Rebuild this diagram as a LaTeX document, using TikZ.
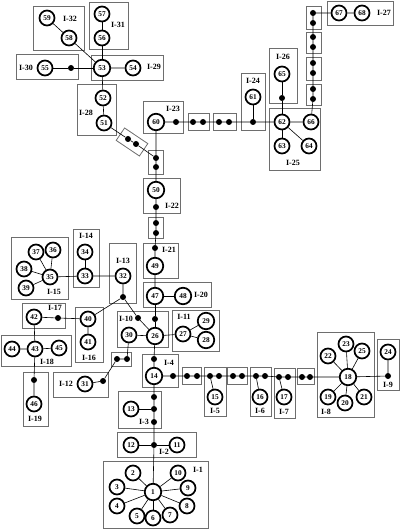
\documentclass[tikz,border=0pt]{standalone}
\usepackage{fontspec}
\setmainfont{Liberation Serif}
\definecolor{boxgray}{RGB}{110,110,110}
\begin{document}
\begin{tikzpicture}[x=1pt,y=-1pt,
 v/.style={circle,draw,line width=1.7pt,minimum size=15pt,inner sep=0pt,font=\bfseries\fontsize{7.3}{8}\selectfont},
 vb/.style={v,minimum size=16.5pt},
 d/.style={circle,fill,inner sep=0pt,minimum size=6pt},
 grp/.style={draw=boxgray,line width=0.8pt},
 lbl/.style={font=\bfseries\fontsize{8}{8}\selectfont,inner sep=0pt},
 e/.style={line width=0.6pt}]
\useasboundingbox (0,0) rectangle (400,529);
% ---------- group frames ----------
\draw[grp] (103,461) rectangle (208,528); % I-1
\draw[grp] (117,432) rectangle (196,457); % I-2
\draw[grp] (118,391) rectangle (161,428); % I-3
\draw[grp] (142,354) rectangle (178,387); % I-4
\draw[grp] (182,367) rectangle (201,384);
\draw[grp] (204,367) rectangle (226,416); % I-5
\draw[grp] (227,367) rectangle (247,384);
\draw[grp] (250,367) rectangle (271,416); % I-6
\draw[grp] (274,368) rectangle (295,418); % I-7
\draw[grp] (297,368) rectangle (314,384);
\draw[grp] (317,332) rectangle (374,417); % I-8
\draw[grp] (377,339) rectangle (399,390); % I-9
\draw[grp] (117,311) rectangle (168,347); % I-10
\draw[grp] (172,310) rectangle (219,351); % I-11
\draw[grp] (53,372) rectangle (108,397);  % I-12
\draw[grp] (111,352) rectangle (131,366);
\draw[grp] (109,243) rectangle (136,303); % I-13
\draw[grp] (73,229) rectangle (99,287);   % I-14
\draw[grp] (11,237) rectangle (68,299);   % I-15
\draw[grp] (75,307) rectangle (103,362);  % I-16
\draw[grp] (22,303) rectangle (65,328);   % I-17
\draw[grp] (1,335) rectangle (71,366);    % I-18
\draw[grp] (23,372) rectangle (48,426);   % I-19
\draw[grp] (143,282) rectangle (211,307); % I-20
\draw[grp] (143,243) rectangle (178,278); % I-21
\draw[grp] (148,217) rectangle (163,238);
\draw[grp] (143,178) rectangle (180,213); % I-22
\draw[grp] (148,150) rectangle (163,174);
\draw[grp] (139.4,156) -- (147.8,143.6) -- (124.6,128) -- (116.2,140.4) -- cycle;
\draw[grp] (143,101) rectangle (183,133); % I-23
\draw[grp] (188,113) rectangle (209,130);
\draw[grp] (213,113) rectangle (236,130);
\draw[grp] (241,73) rectangle (265,130);  % I-24
\draw[grp] (269,108) rectangle (320,170); % I-25
\draw[grp] (269,48) rectangle (297,103);  % I-26
\draw[grp] (306,6) rectangle (321,29);
\draw[grp] (306,32) rectangle (321,53);
\draw[grp] (306,57) rectangle (321,80);
\draw[grp] (306,84) rectangle (321,105);
\draw[grp] (327,1) rectangle (393,25);    % I-27
\draw[grp] (77,84) rectangle (116,135);   % I-28
\draw[grp] (91,55) rectangle (163,80);    % I-29
\draw[grp] (16,54) rectangle (78,79);     % I-30
\draw[grp] (89,2) rectangle (128,49);     % I-31
\draw[grp] (33,6) rectangle (84,50);      % I-32
% ---------- labels ----------
\node[lbl] (L1) at (198,470) {I-1};
\node[lbl] (L2) at (164,452) {I-2};
\node[lbl] (L3) at (144,422) {I-3};
\node[lbl] (L4) at (169,363) {I-4};
\node[lbl] (L5) at (215,411) {I-5};
\node[lbl] (L6) at (260,411) {I-6};
\node[lbl] (L7) at (284,412) {I-7};
\node[lbl] (L8) at (326,412) {I-8};
\node[lbl] (L9) at (388,385) {I-9};
\node[lbl] (L10) at (126,319) {I-10};
\node[lbl] (L11) at (184,317) {I-11};
\node[lbl] (L12) at (66,384) {I-12};
\node[lbl] (L13) at (123,261) {I-13};
\node[lbl] (L14) at (86,236) {I-14};
\node[lbl] (L15) at (54,292) {I-15};
\node[lbl] (L16) at (89,358) {I-16};
\node[lbl] (L17) at (55,308) {I-17};
\node[lbl] (L18) at (47,362) {I-18};
\node[lbl] (L19) at (35,419) {I-19};
\node[lbl] (L20) at (201,295) {I-20};
\node[lbl] (L21) at (169,250) {I-21};
\node[lbl] (L22) at (172,206) {I-22};
\node[lbl] (L23) at (173,109) {I-23};
\node[lbl] (L24) at (253,81) {I-24};
\node[lbl] (L25) at (293,163) {I-25};
\node[lbl] (L26) at (283,57) {I-26};
\node[lbl] (L27) at (384,13) {I-27};
\node[lbl] (L28) at (86,113) {I-28};
\node[lbl] (L29) at (154,67) {I-29};
\node[lbl] (L30) at (26,68) {I-30};
\node[lbl] (L31) at (118,25) {I-31};
\node[lbl] (L32) at (70,19) {I-32};
% ---------- vertices ----------
\node[vb] (n1) at (153,492) {1};
\node[v] (n2) at (133,473) {2};
\node[v] (n3) at (117,487) {3};
\node[v] (n4) at (117,506) {4};
\node[v] (n5) at (137,516) {5};
\node[v] (n6) at (153,518) {6};
\node[v] (n7) at (170,515) {7};
\node[v] (n8) at (187,506) {8};
\node[v] (n9) at (188,488) {9};
\node[v] (n10) at (178,473) {10};
\node[v] (n11) at (177,445) {11};
\node[v] (n12) at (131,445) {12};
\node[v] (n13) at (131,409) {13};
\node[vb] (n14) at (154,376) {14};
\node[v] (n15) at (215,397) {15};
\node[v] (n16) at (260,397) {16};
\node[v] (n17) at (284,397) {17};
\node[vb] (n18) at (348,377) {18};
\node[v] (n19) at (328,397) {19};
\node[v] (n20) at (345,403) {20};
\node[v] (n21) at (364,397) {21};
\node[v] (n22) at (328,356) {22};
\node[v] (n23) at (346,344) {23};
\node[v] (n24) at (388,352) {24};
\node[v] (n25) at (362,351) {25};
\node[vb] (n26) at (155,336) {26};
\node[v] (n27) at (183,334) {27};
\node[vb] (n28) at (206,340) {28};
\node[vb] (n29) at (206,321) {29};
\node[v] (n30) at (129,335) {30};
\node[v] (n31) at (85,384) {31};
\node[v] (n32) at (123,276) {32};
\node[v] (n33) at (85,276) {33};
\node[v] (n34) at (85,252) {34};
\node[v] (n35) at (50,277) {35};
\node[v] (n36) at (53,250) {36};
\node[v] (n37) at (36,252) {37};
\node[v] (n38) at (24,269) {38};
\node[v] (n39) at (26,288) {39};
\node[v] (n40) at (88,319) {40};
\node[v] (n41) at (88,342) {41};
\node[v] (n42) at (34,317) {42};
\node[v] (n43) at (35,349) {43};
\node[v] (n44) at (12,349) {44};
\node[v] (n45) at (59,348) {45};
\node[v] (n46) at (34,404) {46};
\node[vb] (n47) at (155,296) {47};
\node[vb] (n48) at (183,296) {48};
\node[vb] (n49) at (155,266) {49};
\node[vb] (n50) at (156,190) {50};
\node[v] (n51) at (104,123) {51};
\node[v] (n52) at (103,98) {52};
\node[vb] (n53) at (102,68) {53};
\node[v] (n54) at (133,68) {54};
\node[v] (n55) at (45,68) {55};
\node[v] (n56) at (102,38) {56};
\node[v] (n57) at (102,14) {57};
\node[v] (n58) at (69,38) {58};
\node[v] (n59) at (47,18) {59};
\node[vb] (n60) at (156,122) {60};
\node[v] (n61) at (253,97) {61};
\node[v] (n62) at (282,122) {62};
\node[v] (n63) at (282,146) {63};
\node[v] (n64) at (309,146) {64};
\node[v] (n65) at (282,74) {65};
\node[v] (n66) at (311,122) {66};
\node[v] (n67) at (339,13) {67};
\node[v] (n68) at (362,13) {68};
% ---------- dots ----------
\node[d] (d2) at (154,445) {};
\node[d] (d3a) at (154,397) {};
\node[d] (d3b) at (154,409) {};
\node[d] (d3c) at (154,422) {};
\node[d] (d4a) at (154,359) {};
\node[d] (d4b) at (173,376) {};
\node[d] (pA1) at (187,376) {};
\node[d] (pA2) at (197,376) {};
\node[d] (d5a) at (210,376) {};
\node[d] (d5b) at (219,376) {};
\node[d] (pB1) at (233,376) {};
\node[d] (pB2) at (242,376) {};
\node[d] (d6a) at (256,376) {};
\node[d] (d6b) at (265,376) {};
\node[d] (d7a) at (279,377) {};
\node[d] (d7b) at (288,377) {};
\node[d] (pC1) at (302,377) {};
\node[d] (pC2) at (310,377) {};
\node[d] (d9) at (388,376) {};
\node[d] (d10a) at (155,319) {};
\node[d] (d10b) at (138,318) {};
\node[d] (d12) at (103,381) {};
\node[d] (pD1) at (117,359) {};
\node[d] (pD2) at (127,359) {};
\node[d] (d13) at (123,297) {};
\node[d] (d17) at (58,318) {};
\node[d] (d19) at (34,380) {};
\node[d] (d21) at (155,248) {};
\node[d] (pE1) at (156,223) {};
\node[d] (pE2) at (156,233) {};
\node[d] (d22) at (156,207) {};
\node[d] (pF1) at (156,158) {};
\node[d] (pF2) at (156,167) {};
\node[d] (pG1) at (128,139) {};
\node[d] (pG2) at (136,144) {};
\node[d] (d23) at (176,122) {};
\node[d] (pH1) at (193,122) {};
\node[d] (pH2) at (203,122) {};
\node[d] (pI1) at (219,122) {};
\node[d] (pI2) at (229,122) {};
\node[d] (d24) at (253,122) {};
\node[d] (d26) at (282,98) {};
\node[d] (pJ1) at (313,13) {};
\node[d] (pJ2) at (313,23) {};
\node[d] (pJ3) at (313,37) {};
\node[d] (pJ4) at (313,47) {};
\node[d] (pJ5) at (313,63) {};
\node[d] (pJ6) at (313,73) {};
\node[d] (pJ7) at (313,89) {};
\node[d] (pJ8) at (313,99) {};
\node[d] (d30) at (71,68) {};
% ---------- edges ----------
\foreach \k in {2,...,10} {\draw[e] (n1) -- (n\k);}
\draw[e] (n12) -- (d2) -- (n11);
\draw[e] (n13) -- (d3b);
\draw[e] (n26) -- (d4a) -- (n14) -- (d3a) -- (d3b) -- (d3c) -- (d2) -- (n1);
\draw[e] (n14) -- (d4b) -- (pA1) -- (pA2) -- (d5a) -- (d5b) -- (pB1) -- (pB2) -- (d6a) -- (d6b) -- (d7a) -- (d7b) -- (pC1) -- (pC2) -- (n18) -- (d9) -- (n24);
\draw[e] (d5a) -- (n15);
\draw[e] (d6a) -- (n16);
\draw[e] (d7a) -- (n17);
\foreach \k in {19,...,23,25} {\draw[e] (n18) -- (n\k);}
\draw[e] (n30) -- (n26) -- (n27) -- (n29);
\draw[e] (n27) -- (n28);
\draw[e] (n26) -- (d10a) -- (n47) -- (n48);
\draw[e] (n47) -- (n49) -- (d21) -- (pE2) -- (pE1) -- (d22) -- (n50) -- (pF2) -- (pF1) -- (n60);
\draw[e] (n51) -- (pG1) -- (pG2) -- (pF1);
\draw[e] (n26) -- (d10b) -- (d13) -- (n32) -- (n33) -- (n35);
\draw[e] (d13) -- (n40) -- (n41);
\draw[e] (n33) -- (n34);
\foreach \k in {36,...,39} {\draw[e] (n35) -- (n\k);}
\draw[e] (n40) -- (d17) -- (n42) -- (n43) -- (d19) -- (n46);
\draw[e] (n44) -- (n43) -- (n45);
\draw[e] (n30) -- (pD2) -- (pD1) -- (d12) -- (n31);
\draw[e] (n60) -- (d23) -- (pH1) -- (pH2) -- (pI1) -- (pI2) -- (d24) -- (n62) -- (n66) -- (pJ8) -- (pJ7) -- (pJ6) -- (pJ5) -- (pJ4) -- (pJ3) -- (pJ2) -- (pJ1) -- (n67) -- (n68);
\draw[e] (d24) -- (n61);
\draw[e] (n62) -- (n63);
\draw[e] (n62) -- (n64);
\draw[e] (n62) -- (d26) -- (n65);
\draw[e] (n51) -- (n52) -- (n53) -- (n54);
\draw[e] (n55) -- (d30) -- (n53) -- (n56) -- (n57);
\draw[e] (n53) -- (n58) -- (n59);
\end{tikzpicture}
\end{document}
